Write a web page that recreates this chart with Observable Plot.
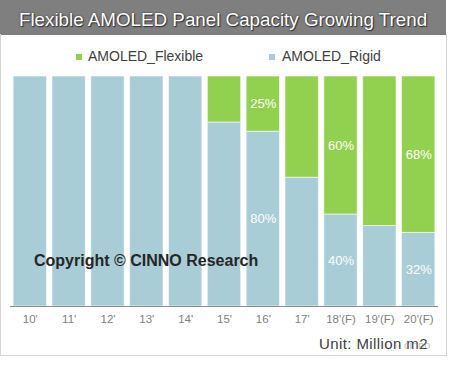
<!DOCTYPE html>
<html><head><meta charset="utf-8">
<script src="https://cdn.jsdelivr.net/npm/d3@7"></script>
<script src="https://cdn.jsdelivr.net/npm/@observablehq/plot@0.6"></script>
<style>
body{margin:0;background:#fff;}
#wrap{position:relative;width:449px;height:367px;overflow:hidden;font-family:"Liberation Sans",Arial,sans-serif;background:#fff;}
#title{position:absolute;left:0;top:0;width:446px;height:35px;background:#7f7f7f;color:#fff;font-size:18.8px;line-height:19px;text-align:center;text-shadow:0 0 2px #333,1px 1px 1px #333;}
#title span{position:absolute;left:0;right:0;top:10px;}
#border{position:absolute;left:0px;top:34px;width:445px;height:321px;border:1px solid #d4d4d4;border-top:none;pointer-events:none;z-index:5;}
.leg{position:absolute;top:49px;font-size:14px;line-height:14px;color:#404040;white-space:nowrap;}
.sw{position:absolute;top:54px;width:6px;height:6px;}
#chart{position:absolute;left:0;top:66px;}
#copy{position:absolute;left:34px;top:253px;font-size:16px;line-height:16px;font-weight:bold;color:#262626;white-space:nowrap;z-index:3;}
#unit{position:absolute;left:319px;top:336px;font-size:15px;line-height:15px;color:#404040;white-space:nowrap;letter-spacing:0.4px;}
#wm{position:absolute;left:404px;top:340px;font-size:11px;line-height:11px;color:rgba(150,150,150,0.6);white-space:nowrap;}
#wmc{position:absolute;left:386px;top:340px;width:9px;height:9px;border:1px dotted rgba(150,150,150,0.6);border-radius:50%;}
</style></head>
<body>
<div id="wrap">
  <div id="title"><span>Flexible AMOLED Panel Capacity Growing Trend</span></div>
  <div class="sw" style="left:76px;background:#92d050"></div>
  <div class="leg" style="left:88px">AMOLED_Flexible</div>
  <div class="sw" style="left:269px;background:#a9cdd6"></div>
  <div class="leg" style="left:282px">AMOLED_Rigid</div>
  <div id="chart"></div>
  <div id="copy">Copyright © CINNO Research</div>
  <div id="unit">Unit: Million m2</div>
  <div id="wmc"></div>
  <div id="wm">cinno</div>
  <div id="border"></div>
</div>
<script>
const categories = ["10'","11'","12'","13'","14'","15'","16'","17'","18'(F)","19'(F)","20'(F)"];
const rigid = [100,100,100,100,100,80,76,56,40,35,32];
const flexible = [0,0,0,0,0,20,24,44,60,65,68];
const rigidLabels = ["","","","","","","80%","","40%","","32%"];
const flexibleLabels = ["","","","","","","25%","","60%","","68%"];
const seriesNames = ["AMOLED_Rigid","AMOLED_Flexible"];
const colors = ["#a9cdd6","#92d050"];

const data = [];
categories.forEach((c,i)=>{
  data.push({cat:c, series:seriesNames[0], value:rigid[i], label:rigidLabels[i]});
  data.push({cat:c, series:seriesNames[1], value:flexible[i], label:flexibleLabels[i]});
});

const font = "Liberation Sans, Arial, sans-serif";
const chart = Plot.plot({
  width:449, height:301,
  marginTop:10, marginBottom:61, marginLeft:10, marginRight:11,
  style:{background:"transparent", color:"#7f7f7f", fontSize:"11.5px", fontFamily:font, overflow:"visible"},
  x:{domain:categories, paddingInner:0.14, paddingOuter:0.08, round:false, axis:null},
  y:{domain:[0,100], axis:null},
  color:{domain:seriesNames, range:colors},
  marks:[
    Plot.barY(data, {x:"cat", y:"value", z:"series", fill:"series", order:seriesNames, stroke:"white", strokeWidth:1, strokeOpacity:0.6}),
    Plot.ruleY([0], {stroke:"#8c8c8c", strokeWidth:1}),
    Plot.axisX({tickSize:0, tickPadding:8, label:null, fill:"#7f7f7f", fontSize:11.5}),
    Plot.text(data, Plot.stackY({x:"cat", y:"value", z:"series", order:seriesNames, text:d=>d.label||null, fill:"white", fontSize:13, fontFamily:font}))
  ]
});
document.getElementById("chart").appendChild(chart);
</script>
</body></html>
